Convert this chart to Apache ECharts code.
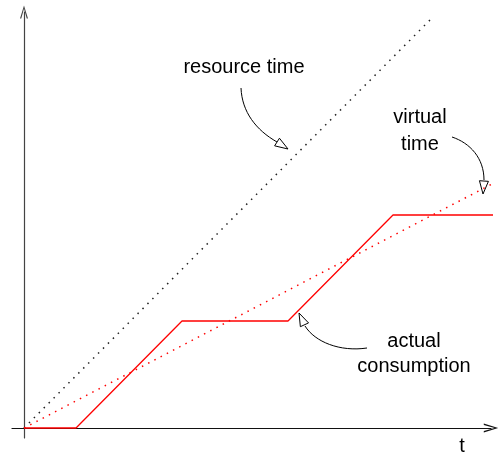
<!DOCTYPE html>
<html>
<head>
<meta charset="utf-8">
<script src="https://cdn.jsdelivr.net/npm/echarts@6/dist/echarts.min.js"></script>
<style>
  html, body { margin: 0; padding: 0; background: #fff; }
  #main { width: 500px; height: 460px; }
</style>
</head>
<body>
<div id="main"></div>
<script>
// data, in t units (1 unit ~ 10px in the picture)
var resourceTime = [[0, 0], [40.6, 40.8]];
var virtualTime = [[0, 0], [46.8, 24.4]];
var actualConsumption = [[0, 0], [5.2, 0], [15.8, 10.7], [26.4, 10.7], [36.9, 21.3], [47.4, 21.3]];

var chart = echarts.init(document.getElementById('main'));
var font = 'Liberation Sans, Arial, Helvetica, sans-serif';
var openArrow = 'path://M5,0 L10,16 L8.4,16 L5,4 L1.6,16 L0,16 Z';

var option = {
    animation: false,
    grid: { left: 12, top: 12, width: 479, height: 426 },
    xAxis: {
        type: 'value', min: -1.2, max: 46.7,
        axisLine: { onZero: true, lineStyle: { color: '#111', width: 1.2 }, symbol: ['none', openArrow], symbolSize: [9, 16] },
        axisTick: { show: false }, axisLabel: { show: false }, splitLine: { show: false }
    },
    yAxis: {
        type: 'value', min: -1, max: 41.6,
        axisLine: { onZero: true, lineStyle: { color: '#444', width: 1.2 }, symbol: ['none', openArrow], symbolSize: [8, 16] },
        axisTick: { show: false }, axisLabel: { show: false }, splitLine: { show: false }
    },
    series: [
        {
            name: 'resource time', type: 'line', data: resourceTime, symbol: 'none', clip: false,
            lineStyle: { color: '#222', width: 1.5, type: [1.5, 5.5] }
        },
        {
            name: 'virtual time', type: 'line', data: virtualTime, symbol: 'none', clip: false,
            lineStyle: { color: '#f00', width: 1.5, type: [1.5, 5.5] }
        },
        {
            name: 'actual consumption', type: 'line', data: actualConsumption, symbol: 'none', clip: false,
            lineStyle: { color: '#f00', width: 1.3 }
        }
    ]
};
chart.setOption(option);

// annotation helpers
function head(tip, from) {
    var dx = tip[0] - from[0], dy = tip[1] - from[1];
    var l = Math.sqrt(dx * dx + dy * dy);
    dx /= l; dy /= l;
    var bx = tip[0] - dx * 13, by = tip[1] - dy * 13;
    return {
        type: 'polygon',
        shape: { points: [tip, [bx - dy * 4.5, by + dx * 4.5], [bx + dy * 4.5, by - dx * 4.5]] },
        style: { fill: '#fff', stroke: '#000', lineWidth: 1 }
    };
}
function curve(p0, c1, c2, p3) {
    return {
        type: 'bezierCurve',
        shape: { x1: p0[0], y1: p0[1], cpx1: c1[0], cpy1: c1[1], cpx2: c2[0], cpy2: c2[1], x2: p3[0], y2: p3[1] },
        style: { stroke: '#000', lineWidth: 1, fill: null }
    };
}
function label(x, y, text, lh) {
    return {
        type: 'text', x: x, y: y,
        style: { text: text, font: '20px ' + font, fill: '#000', align: 'center', verticalAlign: 'middle', lineHeight: lh || 25 }
    };
}

chart.setOption({
    graphic: [
        label(244, 67, 'resource time'),
        label(420, 131, 'virtual\ntime', 27),
        label(414, 354, 'actual\nconsumption', 25),
        label(462, 446, 't'),
        curve([241, 88], [242, 112], [256, 130], [277, 142]),
        head([288, 149], [277, 142]),
        curve([452, 137], [470, 143], [484, 158], [484, 180]),
        head([483, 194], [484, 180]),
        curve([367, 348], [340, 352], [315, 342], [305, 326]),
        head([299, 313], [305, 326])
    ]
});
</script>
</body>
</html>
